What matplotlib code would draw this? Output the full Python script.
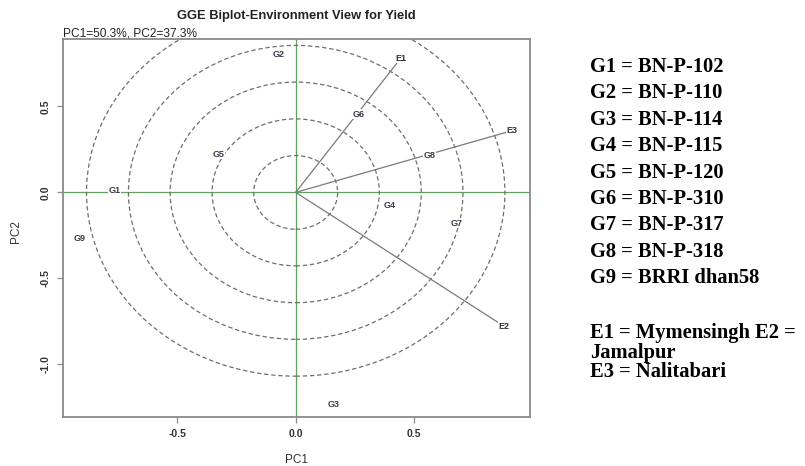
import matplotlib
matplotlib.use("Agg")
import matplotlib.pyplot as plt
from matplotlib.patches import Ellipse

# Genotype scores (PC1, PC2)
genotypes = ["G1", "G2", "G3", "G4", "G5", "G6", "G7", "G8", "G9"]
geno_pc1 = [-0.765, -0.073, 0.159, 0.398, -0.327, 0.264, 0.679, 0.564, -0.913]
geno_pc2 = [0.013, 0.802, -1.231, -0.074, 0.223, 0.455, -0.180, 0.215, -0.267]

# Environment vectors (PC1, PC2)
environments = ["E1", "E2", "E3"]
env_pc1 = [0.444, 0.879, 0.911]
env_pc2 = [0.781, -0.778, 0.358]

# Concentric reference circles (radius in PC1 units)
circle_radii = [0.177, 0.353, 0.530, 0.706, 0.883]
circle_y_stretch = 1.21

title = "GGE Biplot-Environment View for Yield"
subtitle = "PC1=50.3%, PC2=37.3%"
x_ticks = [-0.5, 0.0, 0.5]
y_ticks = [-1.0, -0.5, 0.0, 0.5]

genotype_names = ["G1 = BN-P-102", "G2 = BN-P-110", "G3 = BN-P-114",
                  "G4 = BN-P-115", "G5 = BN-P-120", "G6 = BN-P-310",
                  "G7 = BN-P-317", "G8 = BN-P-318", "G9 = BRRI dhan58"]
environment_names = ["E1 = Mymensingh E2 =", "Jamalpur", "E3 = Nalitabari"]

W, H = 805, 466
fig = plt.figure(figsize=(W / 100, H / 100), dpi=100)
fig.patch.set_facecolor("white")

ax_l, ax_r, ax_t, ax_b = 63.3, 530, 39.3, 416.5
ax = fig.add_axes([ax_l / W, 1 - ax_b / H, (ax_r - ax_l) / W, (ax_b - ax_t) / H])
ax.set_xlim(-0.981, 0.989)
ax.set_ylim(-1.303, 0.890)

frame_col = "#8a8a8a"
for s in ax.spines.values():
    s.set_color(frame_col)
    s.set_linewidth(1.3)

green = "#5f9f5f"
ax.axhline(0, color=green, lw=0.9, zorder=1)
ax.axvline(0, color=green, lw=0.9, zorder=1)

for r in circle_radii:
    ax.add_patch(Ellipse((0, 0), 2 * r, 2 * r * circle_y_stretch, fill=False,
                         ec="#6e6e6e", lw=0.9, ls=(0, (3.5, 2.2)), zorder=2))

label_font = dict(fontsize=6.5, ha="center", va="center", fontweight="bold",
                  family="Liberation Sans", zorder=4,
                  bbox=dict(fc="white", ec="none", pad=0.3))

for x, y, name in zip(env_pc1, env_pc2, environments):
    ax.plot([0, x], [0, y], color="#7a7a7a", lw=0.9, zorder=3)
    ax.text(x, y, name, color="#333333", **label_font)

for x, y, name in zip(geno_pc1, geno_pc2, genotypes):
    ax.text(x, y, name, color="#3a3a4a", **label_font)

ax.set_xticks(x_ticks)
ax.set_xticklabels([f"{v:.1f}" for v in x_ticks])
ax.set_yticks(y_ticks)
ax.set_yticklabels([f"{v:.1f}" for v in y_ticks], rotation=90, va="center")
ax.tick_params(axis="both", length=4, width=0.9, color=frame_col,
               labelsize=7.5, labelcolor="#333333", pad=5)
for lab in ax.get_xticklabels() + ax.get_yticklabels():
    lab.set_family("Liberation Sans")
    lab.set_fontweight("bold")

fig.text(296 / W, 1 - 460 / H, "PC1", ha="center", va="center",
         fontsize=8.5, color="#333333", family="Liberation Sans")
fig.text(15.7 / W, 1 - 231.7 / H, "PC2", ha="center", va="center",
         rotation=90, fontsize=8.5, color="#333333", family="Liberation Sans")

fig.text(296 / W, 1 - 16 / H, title, ha="center", va="center",
         fontsize=9.3, fontweight="bold", color="#222222", family="Liberation Sans")
fig.text(ax_l / W, 1 - 33 / H, subtitle, ha="left", va="center",
         fontsize=8.6, color="#222222", family="Liberation Sans")

for i, t in enumerate(genotype_names):
    fig.text(590 / W, 1 - (66.7 + 26.45 * i) / H, t, ha="left", va="center",
             fontsize=14.8, fontweight="bold", family="Liberation Serif",
             color="black")
for i, t in enumerate(environment_names):
    fig.text(590 / W, 1 - (333.3 + 19.5 * i) / H, t, ha="left", va="center",
             fontsize=14.8, fontweight="bold", family="Liberation Serif",
             color="black")

fig.savefig("out.png", dpi=100, facecolor="white")
